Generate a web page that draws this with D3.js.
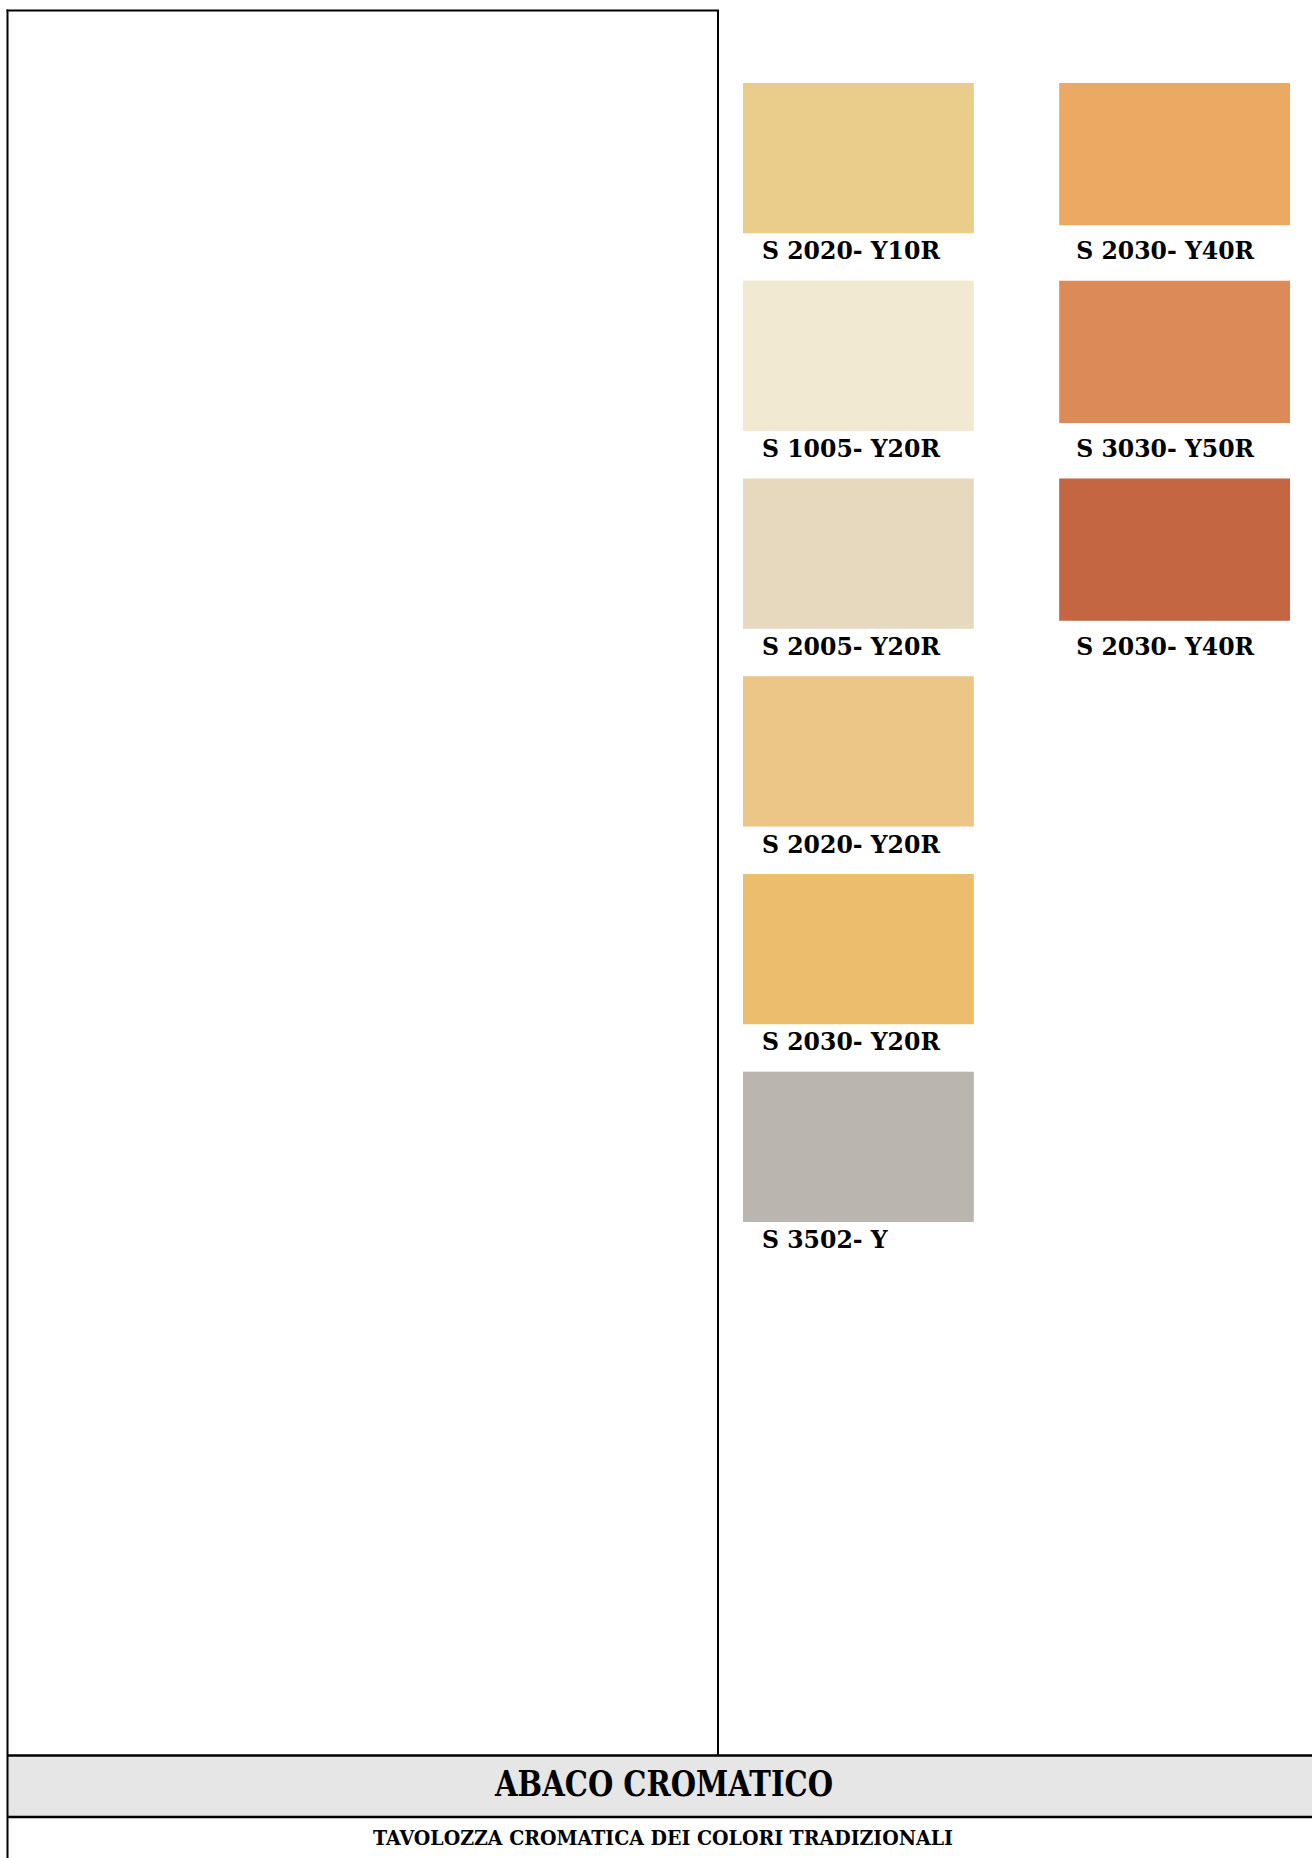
<!DOCTYPE html>
<html>
<head>
<meta charset="utf-8">
<script src="https://cdn.jsdelivr.net/npm/d3@7"></script>
<style>
  body { margin: 0; background: #fff; }
  text { font-family: "DejaVu Serif", serif; font-weight: bold; fill: #000; }
</style>
</head>
<body>
<script>
// swatch data
const codes = ['S 2020- Y10R', 'S 2030- Y40R', 'S 1005- Y20R', 'S 3030- Y50R',
  'S 2005- Y20R', 'S 2030- Y40R', 'S 2020- Y20R', 'S 2030- Y20R', 'S 3502- Y'];
const swatchColors = ['#EACD8A', '#ECA963', '#F2E9D2', '#DB8A58',
  '#E7D9BE', '#C46642', '#EBC686', '#EBBD6D', '#BAB5AE'];
const cols = [0, 1, 0, 1, 0, 1, 0, 0, 0];
const rows = [0, 0, 1, 1, 2, 2, 3, 4, 5];
const title = 'ABACO CROMATICO';
const subtitle = 'TAVOLOZZA CROMATICA DEI COLORI TRADIZIONALI';

const W = 1312, H = 1858;
const svg = d3.select('body').append('svg')
    .attr('width', W)
    .attr('height', H)
    .attr('viewBox', `0 0 ${W} ${H}`);

const swatches = codes.map((c, i) => ({code: c, color: swatchColors[i], col: cols[i], row: rows[i]}));

const x = d3.scaleBand().domain([0, 1]).range([743, 1290]).paddingInner(0.27);
const y = d3.scaleBand().domain(d3.range(6)).range([83, 1222]).paddingInner(0.24);

// frame lines
const frame = svg.append('g').attr('stroke', '#000').attr('fill', 'none');
frame.append('line').attr('x1', 7.5).attr('x2', 7.5).attr('y1', 9.5).attr('y2', H).attr('stroke-width', 2);
frame.append('line').attr('x1', 6.5).attr('x2', 719).attr('y1', 10.5).attr('y2', 10.5).attr('stroke-width', 2);
frame.append('line').attr('x1', 718).attr('x2', 718).attr('y1', 10).attr('y2', 1755).attr('stroke-width', 2);

// title band
svg.append('rect')
    .attr('x', 8).attr('y', 1756).attr('width', W - 8).attr('height', 61)
    .attr('fill', '#E6E6E6');
frame.raise();
svg.append('line').attr('x1', 7).attr('x2', W).attr('y1', 1755.5).attr('y2', 1755.5)
    .attr('stroke', '#000').attr('stroke-width', 2.5);
svg.append('line').attr('x1', 7).attr('x2', W).attr('y1', 1817).attr('y2', 1817)
    .attr('stroke', '#000').attr('stroke-width', 2.5);

// swatches
svg.selectAll('rect.sw')
    .data(swatches)
    .enter()
    .append('rect')
    .attr('class', 'sw')
    .attr('x', d => x(d.col))
    .attr('y', d => y(d.row))
    .attr('width', x.bandwidth())
    .attr('height', d => y.bandwidth() - (d.col ? 8 : 0))
    .style('fill', d => d.color);

const labels = svg.selectAll('text.lab')
    .data(swatches)
    .enter()
    .append('text')
    .attr('class', 'lab')
    .attr('x', d => x(d.col) + (d.col ? 17 : 19))
    .attr('y', d => y(d.row) + y.bandwidth() + 26)
    .style('font-size', '25px')
    .text(d => d.code);

// squeeze text to the narrower face used on the sheet
const k = 178 / labels.node().getComputedTextLength();
labels.each(function() {
  const w = this.getComputedTextLength();
  d3.select(this).attr('textLength', w * k).attr('lengthAdjust', 'spacingAndGlyphs');
});

svg.append('text')
    .attr('x', 664).attr('y', 1796)
    .attr('text-anchor', 'middle')
    .style('font-size', '36px')
    .attr('textLength', 338).attr('lengthAdjust', 'spacingAndGlyphs')
    .text(title);

svg.append('text')
    .attr('x', 663).attr('y', 1845)
    .attr('text-anchor', 'middle')
    .style('font-size', '21px')
    .attr('textLength', 580).attr('lengthAdjust', 'spacingAndGlyphs')
    .text(subtitle);
</script>
</body>
</html>
